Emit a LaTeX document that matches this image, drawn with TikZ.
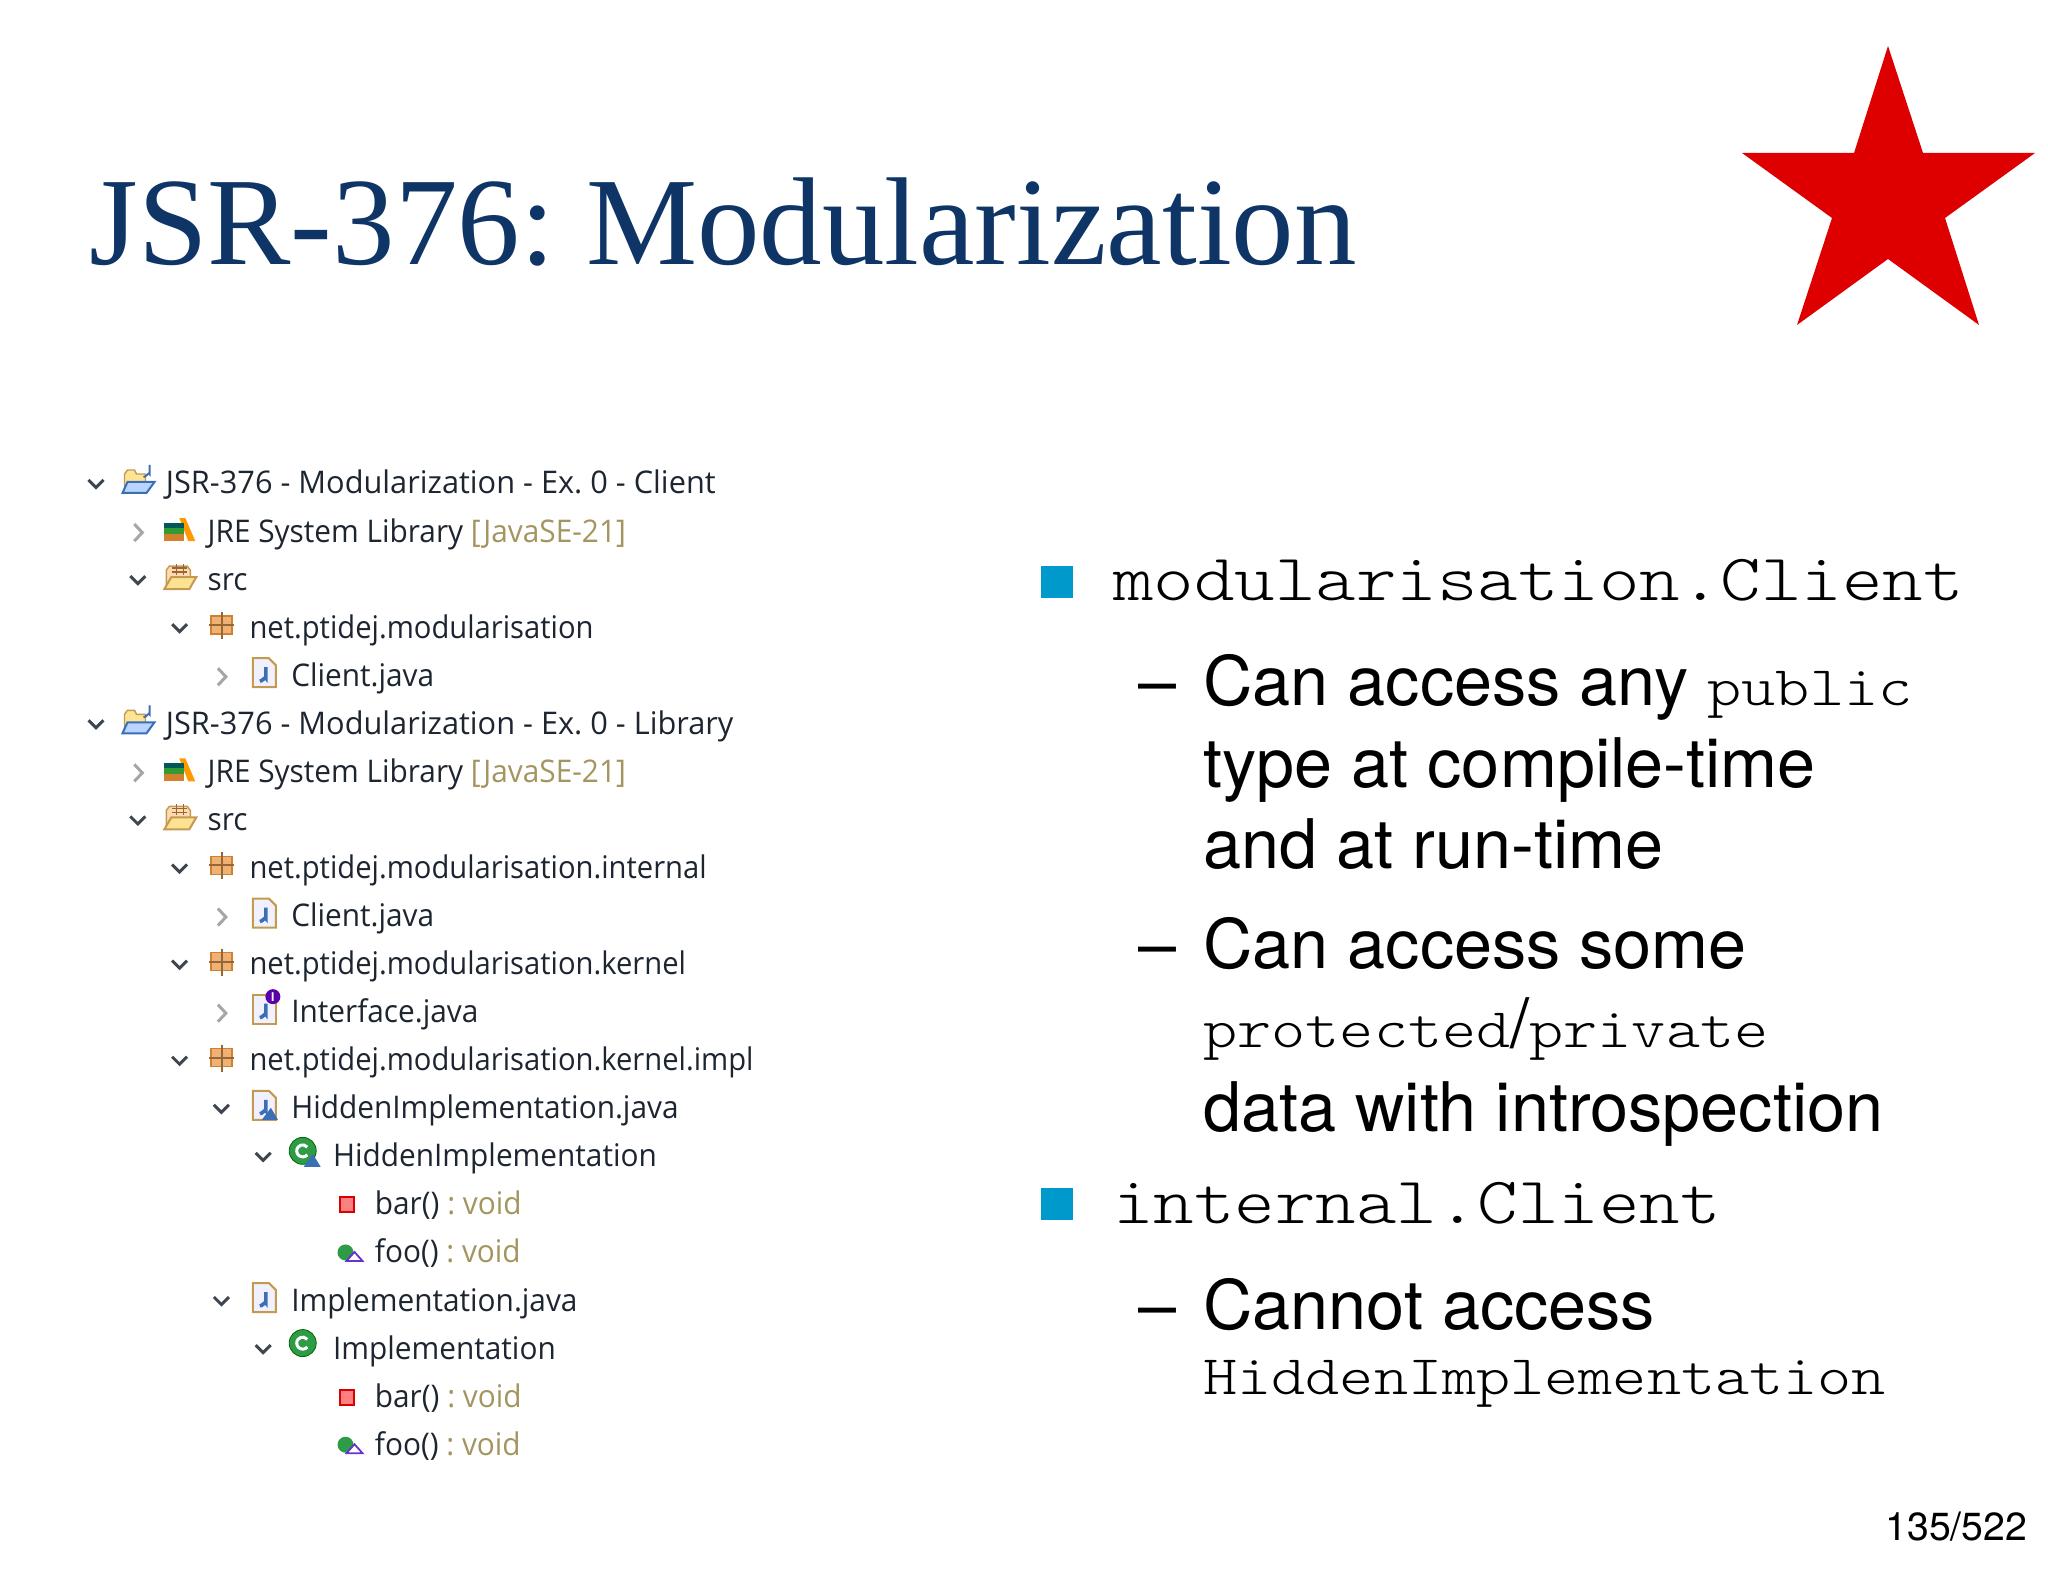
\documentclass[tikz,border=0pt]{standalone}
\usepackage{fontspec}
\usepackage{tikz}
\usetikzlibrary{calc}
\setmainfont{Liberation Serif}
\newfontfamily\helvfont{TeX Gyre Heros}
\newfontfamily\treefont[FakeStretch=0.955]{Open Sans}
\newfontfamily\pkgfont[FakeStretch=0.935]{Open Sans}
\newfontfamily\projfont[FakeStretch=0.985]{Open Sans}
\newfontfamily\codefont[FakeStretch=1.165]{Latin Modern Mono Light}
\definecolor{titleblue}{HTML}{0F3567}
\definecolor{bulletblue}{HTML}{0099CC}
\definecolor{stargreen}{HTML}{2E9B47}
\definecolor{voidtan}{HTML}{A3955F}
\definecolor{treeink}{HTML}{1C2530}
\definecolor{tanline}{HTML}{C49A50}
\definecolor{jblue}{HTML}{3A6FB5}
\tikzset{
 heading/.style={anchor=base west,inner sep=0,text=titleblue,font=\fontsize{62.5}{70}\selectfont},
 item/.style={anchor=base west,inner sep=0,font=\helvfont\fontsize{34.2}{40}\selectfont},
 code/.style={anchor=base west,inner sep=0,font=\codefont\fontsize{33.1}{38}\selectfont},
 small code/.style={anchor=base west,inner sep=0,font=\codefont\fontsize{27.9}{32}\selectfont},
 sq/.style={fill=bulletblue,draw=none},
 treerow/.style={anchor=base west,inner sep=0,text=treeink,font=\treefont\fontsize{15.6}{18}\selectfont},
 pics/none/.style={code={}},
 pics/open/.style={code={\draw[treeink!85,line width=1.5pt] (-77,-13) -- (-69.5,-5.5) -- (-62,-13);}},
 pics/shut/.style={code={\draw[gray!70,line width=1.5pt] (-73,-17) -- (-65,-8.5) -- (-73,0);}},
 pics/proj/.style={code={
  \draw[tanline,fill=yellow!55!orange!40,line width=.7pt] (-41,-3) -- (-41,-19) -- (-38,-23) -- (-31,-23) -- (-29,-19) -- (-20,-19) -- (-20,-8) -- cycle;
  \draw[jblue,fill=blue!60!cyan!28,line width=1pt] (-38,-11) -- (-11,-11) -- (-19,0) -- (-43,0) -- cycle;
  \draw[jblue,line width=1pt] (-16,-28) -- (-16,-19) to[out=90,in=0] (-22,-16);}},
 pics/lib/.style={code={
  \fill[orange!80!yellow] (-28,-23) -- (-22,-23) -- (-12,0) -- (-19,0) -- cycle;
  \fill[teal!70!black] (-43,-18) rectangle (-23,-13);
  \fill[green!50!black!80] (-43,-13) rectangle (-23,-7);
  \fill[brown!70!orange] (-43,-7) rectangle (-23,0);}},
 pics/srcdir/.style={code={
  \draw[tanline,fill=orange!30,line width=.7pt] (-41,-3) -- (-41,-19) -- (-38,-23) -- (-20,-23) -- (-17,-19) -- (-17,-8) -- cycle;
  \draw[brown!80!black,line width=.7pt] (-31,-25) -- (-31,-14) (-24,-25) -- (-24,-14) (-35,-21) -- (-20,-21) (-35,-17) -- (-20,-17);
  \draw[tanline,fill=yellow!50!orange!40,line width=1pt] (-36,-12) -- (-11,-12) -- (-18,0) -- (-43,0) -- cycle;}},
 pics/pkg/.style={code={
  \draw[brown!70!orange,fill=orange!55!brown!60,line width=.7pt] (-38,-21) rectangle (-17,-3);
  \draw[brown!80!black,line width=1pt] (-27.5,-25) -- (-27.5,2) (-40,-12) -- (-15,-12);}},
 pics/jfile/.style={code={
  \draw[tanline,fill=blue!6,line width=1pt] (-38,-27) -- (-22,-27) -- (-15,-20) -- (-15,2) -- (-38,2) -- cycle;
  \draw[jblue,line width=1.8pt] (-25,-18) -- (-25,-7) to[out=90,in=0] (-31,-4);}},
 pics/ifile/.style={code={
  \draw[tanline,fill=blue!6,line width=1pt] (-38,-27) -- (-15,-27) -- (-15,2) -- (-38,2) -- cycle;
  \draw[jblue,line width=1.8pt] (-25,-18) -- (-25,-7) to[out=90,in=0] (-31,-4);
  \fill[violet!70!blue] (-18,-25) circle (7.5);
  \node[inner sep=0,text=white,font=\helvfont\bfseries\fontsize{6}{6}\selectfont] (ifaceI) at (-18,-25) {I};}},
 pics/hjfile/.style={code={
  \draw[tanline,fill=blue!6,line width=1pt] (-38,-27) -- (-22,-27) -- (-15,-20) -- (-15,2) -- (-38,2) -- cycle;
  \draw[jblue,line width=1.8pt] (-25,-18) -- (-25,-7) to[out=90,in=0] (-31,-4);
  \fill[jblue] (-29,2) -- (-13,2) -- (-20,-10) -- cycle;}},
 pics/cls/.style={code={
  \draw[green!40!black,fill=stargreen,line width=.4pt] (-30,-15) circle (13.5);
  \draw[white,line width=1.5pt] (-25.4,-11.1) arc[start angle=40,end angle=320,radius=6];}},
 pics/hcls/.style={code={
  \draw[green!40!black,fill=stargreen,line width=.4pt] (-30,-15) circle (13.5);
  \draw[white,line width=1.5pt] (-25.4,-11.1) arc[start angle=40,end angle=320,radius=6];
  \fill[jblue] (-29,1) -- (-12,1) -- (-20,-12) -- cycle;}},
 pics/barm/.style={code={\draw[red!85!black,fill=red!50,line width=1pt] (-34.5,-16.5) rectangle (-20.5,-1.5);}},
 pics/foom/.style={code={
  \fill[stargreen] (-29,-9.5) circle (8);
  \draw[violet!50!blue!80,fill=white,line width=.9pt] (-28,-1) -- (-12,-1) -- (-20,-10) -- cycle;}},
}
\newcommand{\voidtxt}[1]{\textcolor{voidtan}{#1}}

\begin{document}
\frenchspacing
\begin{tikzpicture}[x=0.5pt,y=-0.5pt]
 \useasboundingbox (0,0) rectangle (2048,1582);

 \node[heading] (title) at (89,265) {JSR-376: Modularization};
 \fill[red!87!black] (1888,46) -- (1923,153) -- (2035,153) -- (1945,218) -- (1979,325) -- (1888,259) -- (1797,325) -- (1832,218) -- (1742,153) -- (1854,153) -- cycle;

 % the project tree, one row every 48.06
 \foreach \row/\lvl/\chev/\icn/\txt in {
  0/0/open/proj/{\projfont JSR-376 - Modularization - Ex. 0 - Client},
  1/1/shut/lib/{JRE System Library \voidtxt{[JavaSE-21]}},
  2/1/open/srcdir/{src},
  3/2/open/pkg/{\pkgfont net.ptidej.modularisation},
  4/3/shut/jfile/{Client.java},
  5/0/open/proj/{\projfont JSR-376 - Modularization - Ex. 0 - Library},
  6/1/shut/lib/{JRE System Library \voidtxt{[JavaSE-21]}},
  7/1/open/srcdir/{src},
  8/2/open/pkg/{\pkgfont net.ptidej.modularisation.internal},
  9/3/shut/jfile/{Client.java},
  10/2/open/pkg/{\pkgfont net.ptidej.modularisation.kernel},
  11/3/shut/ifile/{Interface.java},
  12/2/open/pkg/{\pkgfont net.ptidej.modularisation.kernel.impl},
  13/3/open/hjfile/{HiddenImplementation.java},
  14/4/open/hcls/{HiddenImplementation},
  15/5/none/barm/{bar() \voidtxt{: void}},
  16/5/none/foom/{foo() \voidtxt{: void}},
  17/3/open/jfile/{Implementation.java},
  18/4/open/cls/{Implementation},
  19/5/none/barm/{bar() \voidtxt{: void}},
  20/5/none/foom/{foo() \voidtxt{: void}}}
 {
  \coordinate (base\row) at ({165.5+41.8*\lvl},{494+48.06*\row});
  \node[treerow] (row\row) at (base\row) {\txt};
  \pic at ($(base\row)+(0,-1)$) {\chev};
  \pic at ($(base\row)+(0,-1)$) {\icn};
 }

 % first item
 \fill[sq] (1041,566) rectangle (1073,598);
 \node[code] (mc) at (1113,601) {modularisation.Client};
 \node[item] (d1) at (1138,705) {–};
 \node[item] (l1) at (1203,705) {Can access any {\codefont\fontsize{27.9}{32}\selectfont public}};
 \node[item] (l2) at (1203,787) {type at compile-time};
 \node[item] (l3) at (1203,868) {and at run-time};
 \node[item] (d2) at (1138,968) {–};
 \node[item] (l4) at (1203,968) {Can access some};
 \node[item] (l5) at (1203,1047) {{\codefont\fontsize{27.9}{32}\selectfont protected}/{\codefont\fontsize{27.9}{32}\selectfont private}};
 \node[item] (l6) at (1203,1131) {data with introspection};

 % second item
 \fill[sq] (1041,1188) rectangle (1073,1220);
 \node[code] (ic) at (1113,1223) {internal.Client};
 \node[item] (d3) at (1138,1329) {–};
 \node[item] (l7) at (1203,1329) {Cannot access};
 \node[small code] (hi) at (1203,1394) {HiddenImplementation};

 \node[item,font=\helvfont\fontsize{19.6}{24}\selectfont] (page) at (1885,1540) {135/522};
\end{tikzpicture}
\end{document}
